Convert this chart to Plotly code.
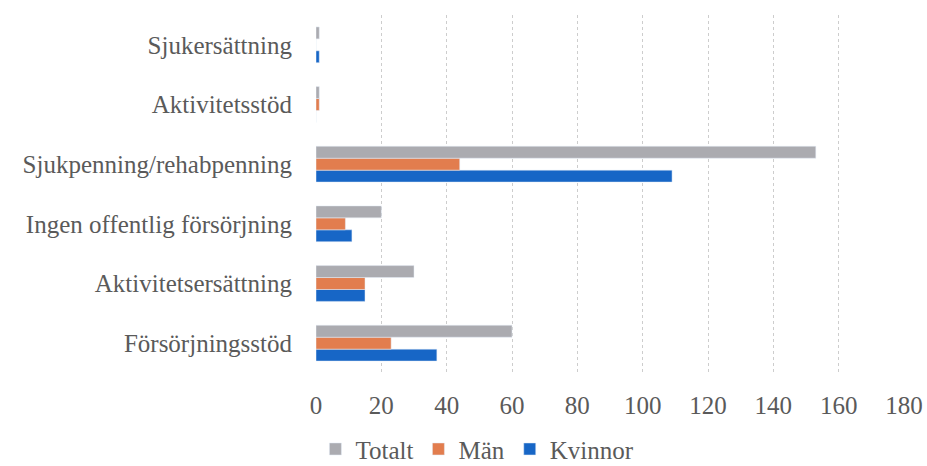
import plotly.graph_objects as go

categories = ["Försörjningsstöd", "Aktivitetsersättning", "Ingen offentlig försörjning",
              "Sjukpenning/rehabpenning", "Aktivitetsstöd", "Sjukersättning"]
totalt = [60, 30, 20, 153, 1, 1]
man = [23, 15, 9, 44, 1, 0]
kvinnor = [37, 15, 11, 109, 0, 1]
x_ticks = [0, 20, 40, 60, 80, 100, 120, 140, 160, 180]

font_family = "Liberation Serif, DejaVu Serif, serif"

fig = go.Figure()
fig.add_trace(go.Bar(y=categories, x=kvinnor, name="Kvinnor", orientation="h",
                     marker=dict(color="#1766C6"), legendrank=3))
fig.add_trace(go.Bar(y=categories, x=man, name="Män", orientation="h",
                     marker=dict(color="#E27D4E"), legendrank=2))
fig.add_trace(go.Bar(y=categories, x=totalt, name="Totalt", orientation="h",
                     marker=dict(color="#ABABB0"), legendrank=1))

fig.update_layout(
    width=927, height=466,
    barmode="group", bargap=0.4, bargroupgap=0.0,
    plot_bgcolor="white", paper_bgcolor="white",
    margin=dict(l=316, r=23, t=15, b=93, autoexpand=False),
    font=dict(family=font_family, size=25, color="#5A5A5A"),
    showlegend=True,
    legend=dict(orientation="h", xref="container", yref="container",
                x=0.515, xanchor="center", y=0.036, yanchor="middle",
                font=dict(size=25, color="#5A5A5A"),
                traceorder="normal"),
    xaxis=dict(range=[0, 180], tickvals=x_ticks, showgrid=True,
               gridcolor="#CDCDCD", griddash="dot", gridwidth=1,
               zeroline=False, showline=False, ticks="outside", ticklen=10,
               tickcolor="rgba(0,0,0,0)", fixedrange=True, automargin=False),
    yaxis=dict(showgrid=False, zeroline=False, showline=False,
               ticks="outside", ticklen=18, tickcolor="rgba(0,0,0,0)",
               categoryorder="array", categoryarray=categories, automargin=False),
)

fig.write_html(
    "out.html",
    config={"displayModeBar": False},
    post_script="document.body.style.margin='0';document.body.style.overflow='hidden';",
)
